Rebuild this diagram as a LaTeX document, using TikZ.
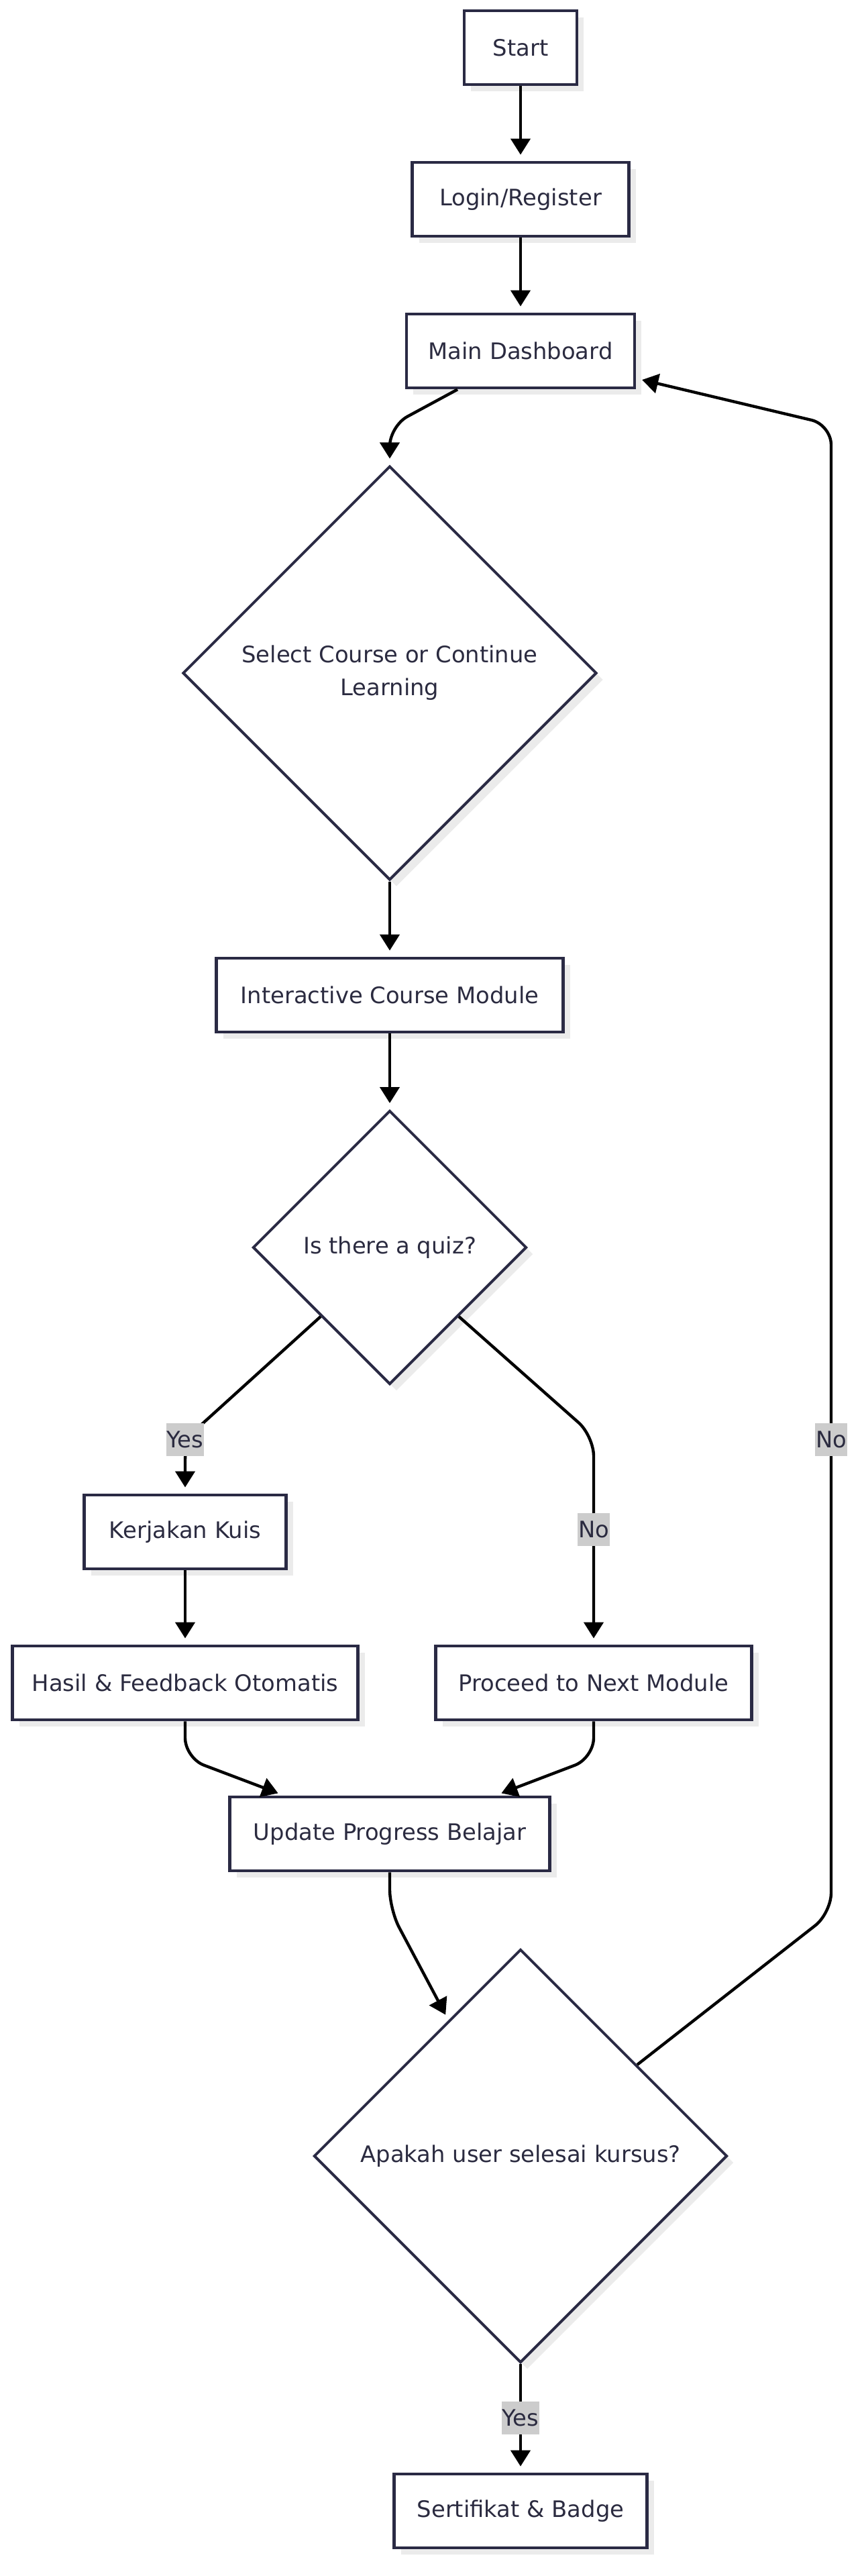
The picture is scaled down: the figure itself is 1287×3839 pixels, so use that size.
\documentclass[tikz,border=0pt]{standalone}
\usepackage{fontspec}
\setmainfont{DejaVu Sans}
\usepackage{tikz}
\usetikzlibrary{arrows.meta,shapes.geometric,shadows}

\definecolor{ink}{HTML}{2B2B40}
\definecolor{rim}{HTML}{2A2A44}
\definecolor{shade}{HTML}{EBEBEB}
\definecolor{lblgray}{HTML}{CCCCCC}

\begin{document}
\begin{tikzpicture}[x=0.5pt,y=-0.5pt,>={Triangle[length=12pt,width=14.5pt]},
    every node/.style={font=\fontsize{16.9}{24.5}\selectfont,text=ink},
    box/.style={draw=rim,fill=white,line width=2.4pt,minimum height=55pt,minimum width=#1,inner sep=0pt,
        drop shadow={shadow xshift=5pt,shadow yshift=-5pt,fill=shade,opacity=1}},
    decision/.style={diamond,aspect=1,draw=rim,fill=white,line width=2pt,minimum width=#1,minimum height=#1,inner sep=0pt,align=center,
        drop shadow={shadow xshift=5pt,shadow yshift=-5pt,fill=shade,opacity=1}},
    lbl/.style={sharp corners,fill=lblgray,inner xsep=0.5pt,inner ysep=0pt,minimum height=24.5pt},
    flow/.style={->,draw=black,line width=2.2pt,shorten >=4.5pt,rounded corners=15pt}]
    \path[use as bounding box,fill=white] (0,0) rectangle (1287,3839);

    \node[box=84pt] (start) at (776,71) {Start};
    \node[box=161.5pt] (login) at (776,297) {Login/Register};
    \node[box=170pt] (dash) at (776,523) {Main Dashboard};
    \node[decision=308.5pt] (sel) at (581,1003) {Select Course or Continue\\Learning};
    \node[box=258.5pt] (icm) at (581,1483) {Interactive Course Module};
    \node[decision=204pt] (quiz) at (581,1859) {Is there a quiz?};
    \node[box=150.5pt] (kuis) at (276,2283) {Kerjakan Kuis};
    \node[box=257.5pt] (hasil) at (276,2508) {Hasil \& Feedback Otomatis};
    \node[box=235.5pt] (next) at (885,2508) {Proceed to Next Module};
    \node[box=238.5pt] (update) at (581,2733) {Update Progress Belajar};
    \node[decision=308pt] (done) at (776,3213) {Apakah user selesai kursus?};
    \node[box=188.5pt] (sert) at (776,3742) {Sertifikat \& Badge};

    \draw[flow] (start) -- (login);
    \draw[flow] (login) -- (dash);
    \draw[flow] ([xshift=-47pt]dash.south) -- (581,635) -- (sel);
    \draw[flow] (sel) -- (icm);
    \draw[flow] (icm) -- (quiz);
    % quiz branches
    \draw[flow] (quiz.south west) -- (276,2145) node[lbl] {Yes} -- (kuis);
    \draw[flow] (quiz.south east) -- (885,2140) -- node[lbl,pos=0.45] {No} (next);
    \draw[flow] (kuis) -- (hasil);
    \draw[flow] (hasil) -- (276,2620) -- ([xshift=-79pt]update.north);
    \draw[flow] (next) -- (885,2620) -- ([xshift=79pt]update.north);
    \draw[flow] (update) -- (581,2846) -- (done);
    % back to dashboard
    \draw[flow] (done) -- (1239,2851) -- node[lbl,pos=0.318] {No} (1239,633) -- (dash);
    \draw[flow] (done) -- node[lbl] {Yes} (sert);
\end{tikzpicture}
\end{document}
